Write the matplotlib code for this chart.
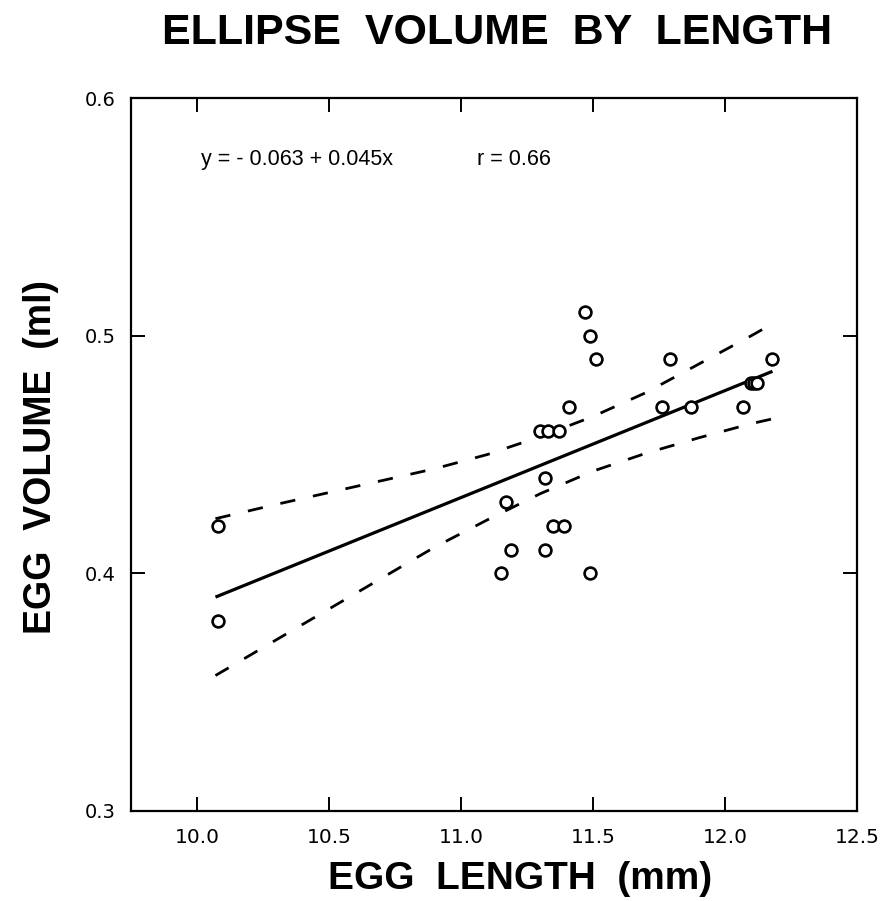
import numpy as np
import matplotlib
matplotlib.use('Agg')
import matplotlib.pyplot as plt

# egg length (mm) and ellipse volume (ml)
egg_length = [10.08, 10.08, 11.15, 11.17, 11.19, 11.30, 11.32, 11.32, 11.33,
              11.35, 11.37, 11.39, 11.41, 11.47, 11.49, 11.49, 11.51, 11.76,
              11.79, 11.87, 12.07, 12.10, 12.11, 12.12, 12.18]
egg_volume = [0.42, 0.38, 0.40, 0.43, 0.41, 0.46, 0.44, 0.41, 0.46,
              0.42, 0.46, 0.42, 0.47, 0.51, 0.50, 0.40, 0.49, 0.47,
              0.49, 0.47, 0.47, 0.48, 0.48, 0.48, 0.49]

# fitted line (from the printed equation) and dashed band
fit_x = [10.07, 12.18]
fit_y = [0.390, 0.485]
band_x = [10.07, 10.3, 10.5, 10.7, 10.9, 11.1, 11.3, 11.5, 11.7, 11.9, 12.1, 12.18]
band_hi = [0.423, 0.429, 0.434, 0.439, 0.444, 0.450, 0.4575, 0.466, 0.476, 0.488, 0.500, 0.505]
band_lo = [0.357, 0.372, 0.385, 0.398, 0.411, 0.4225, 0.4335, 0.443, 0.4505, 0.457, 0.463, 0.465]

xticks = [10.0, 10.5, 11.0, 11.5, 12.0, 12.5]
yticks = [0.3, 0.4, 0.5, 0.6]

fig = plt.figure(figsize=(8.82, 9.01), dpi=100)
ax = fig.add_axes([0.1485, 0.0999, 0.8231, 0.7913])

ax.plot(fit_x, fit_y, color='black', lw=2.3, solid_capstyle='butt')
ax.plot(band_x, band_hi, color='black', lw=2.0, dashes=(5.5, 6.5))
ax.plot(band_x, band_lo, color='black', lw=2.0, dashes=(5.5, 6.5))
ax.plot(egg_length, egg_volume, 'o', mfc='white', mec='black', ms=8.5, mew=1.9,
        linestyle='none', zorder=3)

ax.set_xlim(9.75, 12.5)
ax.set_ylim(0.3, 0.6)
ax.set_xticks(xticks)
ax.set_xticklabels(['%.1f' % t for t in xticks], family='DejaVu Sans', fontsize=14.5)
ax.set_yticks(yticks)
ax.set_yticklabels(['%.1f' % t for t in yticks], family='DejaVu Sans', fontsize=14)
ax.tick_params(axis='both', direction='in', top=True, right=True,
               length=10, width=1.4)
ax.tick_params(axis='x', pad=12)
ax.tick_params(axis='y', pad=11)
for s in ax.spines.values():
    s.set_linewidth(1.6)

ax.text(10.015, 0.574, 'y = - 0.063 + 0.045x', family='Liberation Sans',
        fontsize=15.5, va='center', ha='left')
ax.text(11.06, 0.574, 'r = 0.66', family='Liberation Sans',
        fontsize=15.5, va='center', ha='left')

fig.text(497 / 882, 1 - 33 / 901, 'ELLIPSE  VOLUME  BY  LENGTH', family='Liberation Sans',
         fontweight='bold', fontsize=31, ha='center', va='center')
fig.text(520 / 882, 1 - 879 / 901, 'EGG  LENGTH  (mm)', family='Liberation Sans',
         fontweight='bold', fontsize=28, ha='center', va='center')
fig.text(41 / 882, 1 - 457 / 901, 'EGG  VOLUME  (ml)', family='Liberation Sans',
         fontweight='bold', fontsize=27, ha='center', va='center', rotation=90)

fig.savefig('out.png', dpi=100)
